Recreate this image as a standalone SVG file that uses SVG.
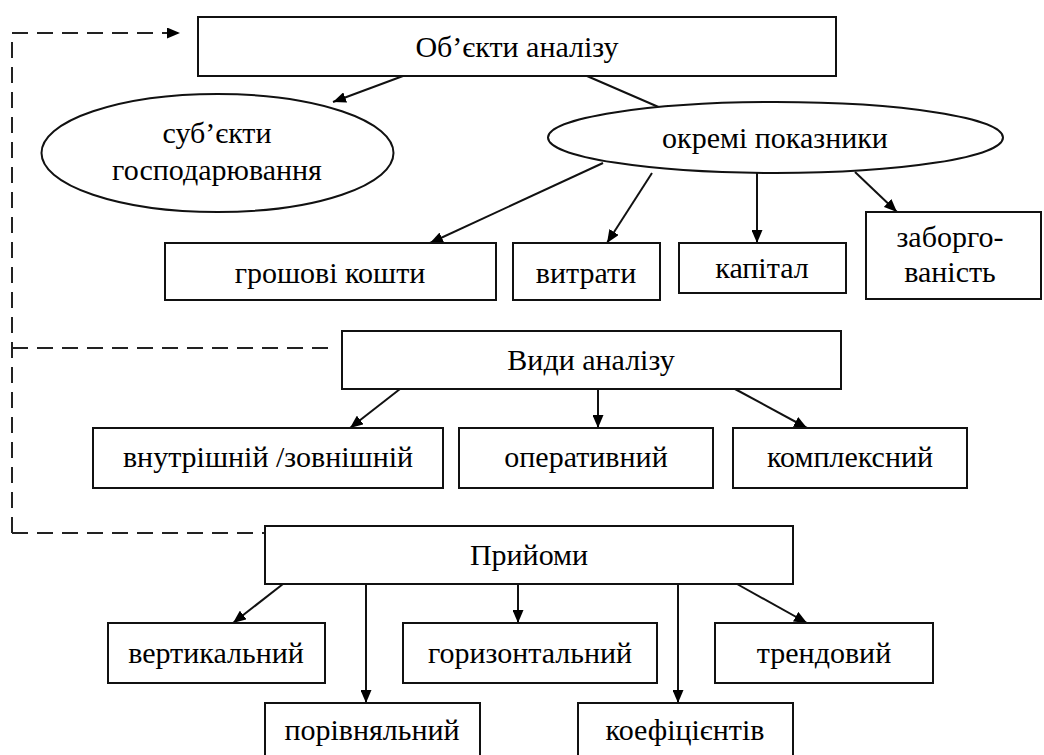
<svg xmlns="http://www.w3.org/2000/svg" width="1044" height="755" viewBox="0 0 1044 755">
<defs>
<marker id="arr" markerUnits="userSpaceOnUse" markerWidth="13" markerHeight="11" refX="13" refY="5.5" orient="auto"><path d="M0,0 L13,5.5 L0,11 z" fill="#000"/></marker>
<style>
.box{fill:#fff;stroke:#111;stroke-width:2}
.c{stroke:#111;stroke-width:2;fill:none}
.d{stroke:#222;stroke-width:2;fill:none;stroke-dasharray:16 9}
</style>
</defs>
<rect width="1044" height="755" fill="#fff"/>
<g id="connectors">
<path class="d" d="M12,533 L12,33 L180,33" marker-end="url(#arr)"/>
<path class="d" d="M12,348 L336,348"/>
<path class="d" d="M12,533 L264,533"/>
<line class="c" x1="403" y1="76" x2="333" y2="102" marker-end="url(#arr)"/>
<line class="c" x1="587" y1="76" x2="677" y2="115" marker-end="url(#arr)"/>
<line class="c" x1="603" y1="163" x2="430" y2="243" marker-end="url(#arr)"/>
<line class="c" x1="652" y1="173" x2="607" y2="243" marker-end="url(#arr)"/>
<line class="c" x1="757" y1="173" x2="757" y2="243" marker-end="url(#arr)"/>
<line class="c" x1="855" y1="172" x2="897" y2="212" marker-end="url(#arr)"/>
<line class="c" x1="400" y1="389" x2="350" y2="428" marker-end="url(#arr)"/>
<line class="c" x1="598" y1="389" x2="598" y2="428" marker-end="url(#arr)"/>
<line class="c" x1="735" y1="389" x2="807" y2="428" marker-end="url(#arr)"/>
<line class="c" x1="283" y1="584" x2="233" y2="623" marker-end="url(#arr)"/>
<line class="c" x1="366" y1="584" x2="366" y2="703" marker-end="url(#arr)"/>
<line class="c" x1="518" y1="584" x2="518" y2="623" marker-end="url(#arr)"/>
<line class="c" x1="678" y1="584" x2="678" y2="703" marker-end="url(#arr)"/>
<line class="c" x1="737" y1="584" x2="807" y2="623" marker-end="url(#arr)"/>
</g>
<g font-family="Liberation Serif, Times New Roman, serif" font-size="30" fill="#000" text-anchor="middle">
<g id="n-objects"><rect class="box" x="198" y="17" width="638" height="59"/><text x="517" y="57">Об’єкти аналізу</text></g>
<g id="n-subjects"><ellipse class="box" cx="217.5" cy="153" rx="176" ry="59"/><text x="217" y="143">суб’єкти</text><text x="217" y="180">господарювання</text></g>
<g id="n-indicators"><ellipse class="box" cx="775.5" cy="137.5" rx="227.5" ry="35.5"/><text x="775" y="148">окремі показники</text></g>
<g id="n-cash"><rect class="box" x="165" y="243" width="331" height="57"/><text x="330" y="283">грошові кошти</text></g>
<g id="n-costs"><rect class="box" x="513" y="243" width="147" height="57"/><text x="586" y="283">витрати</text></g>
<g id="n-capital"><rect class="box" x="679" y="243" width="167" height="50"/><text x="762" y="278">капітал</text></g>
<g id="n-debt"><rect class="box" x="866" y="212" width="175" height="87"/><text x="950" y="247">заборго-</text><text x="950" y="282">ваність</text></g>
<g id="n-types"><rect class="box" x="342" y="331" width="499" height="58"/><text x="591" y="370">Види аналізу</text></g>
<g id="n-intext"><rect class="box" x="93" y="428" width="350" height="60"/><text x="268" y="467">внутрішній /зовнішній</text></g>
<g id="n-oper"><rect class="box" x="459" y="428" width="254" height="60"/><text x="586" y="467">оперативний</text></g>
<g id="n-complex"><rect class="box" x="733" y="428" width="234" height="60"/><text x="850" y="467">комплексний</text></g>
<g id="n-methods"><rect class="box" x="265" y="526" width="528" height="58"/><text x="529" y="565">Прийоми</text></g>
<g id="n-vert"><rect class="box" x="108" y="623" width="217" height="60"/><text x="216" y="663">вертикальний</text></g>
<g id="n-horiz"><rect class="box" x="403" y="623" width="254" height="60"/><text x="530" y="663">горизонтальний</text></g>
<g id="n-trend"><rect class="box" x="715" y="623" width="218" height="60"/><text x="824" y="663">трендовий</text></g>
<g id="n-compar"><rect class="box" x="265" y="703" width="215" height="60"/><text x="372" y="740">порівняльний</text></g>
<g id="n-coef"><rect class="box" x="578" y="703" width="215" height="60"/><text x="685" y="740">коефіцієнтів</text></g>
</g>
</svg>
